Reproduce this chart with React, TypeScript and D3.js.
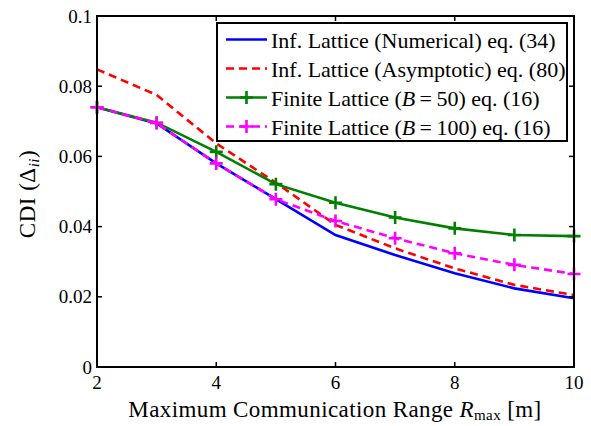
import React from "react";
import * as d3 from "d3";

const xValues = [2, 3, 4, 5, 6, 7, 8, 9, 10];
const numerical = [0.074, 0.0694, 0.058, 0.0478, 0.0376, 0.0319, 0.0267, 0.0224, 0.0196];
const asymptotic = [0.0848, 0.0775, 0.0637, 0.0525, 0.0405, 0.0338, 0.0281, 0.0234, 0.0205];
const finite50 = [0.074, 0.0696, 0.0613, 0.0521, 0.0468, 0.0426, 0.0395, 0.0376, 0.0373];
const finite100 = [0.074, 0.0695, 0.058, 0.0478, 0.0416, 0.0367, 0.0324, 0.0291, 0.0265];
const xTicks = [2, 4, 6, 8, 10];
const yTicks = [0, 0.02, 0.04, 0.06, 0.08, 0.1];
const yTickLabels = ["0", "0.02", "0.04", "0.06", "0.08", "0.1"];

const series = [
  { name: "Inf. Lattice (Numerical) eq. (34)", values: numerical, color: "#0000ff", dash: "", marker: false },
  { name: "Inf. Lattice (Asymptotic) eq. (80)", values: asymptotic, color: "#ff0000", dash: "8,5", marker: false },
  { name: "Finite Lattice (B=50) eq. (16)", values: finite50, color: "#008000", dash: "", marker: true },
  { name: "Finite Lattice (B=100) eq. (16)", values: finite100, color: "#ff00ff", dash: "8,5", marker: true },
];

const W = 591, H = 426;
const L = 97, R = 574, T = 16, B = 367;
const font = "Liberation Serif, Times New Roman, Times, serif";

export default function App() {
  const x = d3.scaleLinear().domain([2, 10]).range([L, R]);
  const y = d3.scaleLinear().domain([0, 0.1]).range([B, T]);
  const line = d3.line<number>().x((_, i) => x(xValues[i])).y((d) => y(d));
  const tk = 5;
  const ms = 6.5;

  const legendRows = [
    { s: series[0], label: <tspan>Inf. Lattice (Numerical) eq. (34)</tspan> },
    { s: series[1], label: <tspan>Inf. Lattice (Asymptotic) eq. (80)</tspan> },
    { s: series[2], label: <><tspan>Finite Lattice (</tspan><tspan fontStyle="italic">B</tspan><tspan>{"\u2009=\u200950) eq. (16)"}</tspan></> },
    { s: series[3], label: <><tspan>Finite Lattice (</tspan><tspan fontStyle="italic">B</tspan><tspan>{"\u2009=\u2009100) eq. (16)"}</tspan></> },
  ];

  return (
    <svg width={W} height={H} style={{ position: "absolute", left: 0, top: 0, background: "#fff", fontFamily: font }}>
      <rect x={0} y={0} width={W} height={H} fill="#fff" />
      {series.map((s, si) => (
        <g key={si}>
          <path d={line(s.values) || ""} fill="none" stroke={s.color} strokeWidth={2.6} strokeDasharray={s.dash} />
          {s.marker && s.values.map((v, i) => (
            <path key={i} d={`M${x(xValues[i]) - ms},${y(v)}h${2 * ms}M${x(xValues[i])},${y(v) - ms}v${2 * ms}`} stroke={s.color} strokeWidth={2.6} />
          ))}
        </g>
      ))}
      <rect x={L} y={T} width={R - L} height={B - T} fill="none" stroke="#000" strokeWidth={2} />
      {xTicks.map((t, i) => (
        <g key={i}>
          <line x1={x(t)} x2={x(t)} y1={B} y2={B - tk} stroke="#000" strokeWidth={1.5} />
          <line x1={x(t)} x2={x(t)} y1={T} y2={T + tk} stroke="#000" strokeWidth={1.5} />
          <text x={x(t)} y={B + 22} textAnchor="middle" fontSize={19}>{t}</text>
        </g>
      ))}
      {yTicks.map((t, i) => (
        <g key={i}>
          <line x1={L} x2={L + tk} y1={y(t)} y2={y(t)} stroke="#000" strokeWidth={1.5} />
          <line x1={R} x2={R - tk} y1={y(t)} y2={y(t)} stroke="#000" strokeWidth={1.5} />
          <text x={L - 5} y={y(t) + 6.5} textAnchor="end" fontSize={19}>{yTickLabels[i]}</text>
        </g>
      ))}
      <rect x={217} y={23} width={350} height={118} fill="#fff" stroke="#000" strokeWidth={2} />
      {legendRows.map((r, i) => {
        const cy = 39.5 + i * 29;
        return (
          <g key={i}>
            <line x1={226} x2={267} y1={cy} y2={cy} stroke={r.s.color} strokeWidth={2.6} strokeDasharray={r.s.dash} />
            {r.s.marker && (
              <path d={`M${246.5 - ms},${cy}h${2 * ms}M246.5,${cy - ms}v${2 * ms}`} stroke={r.s.color} strokeWidth={2.6} />
            )}
            <text x={271} y={cy + 8} fontSize={22}>{r.label}</text>
          </g>
        );
      })}
      <text x={335} y={417} textAnchor="middle" fontSize={23} letterSpacing={0.4}>
        <tspan>Maximum Communication Range </tspan>
        <tspan fontStyle="italic">R</tspan>
        <tspan fontSize={15} dy={3}>max</tspan>
        <tspan dy={-3}> [m]</tspan>
      </text>
      <text transform="translate(35,194) rotate(-90)" textAnchor="middle" fontSize={23} letterSpacing={0.5}>
        <tspan>CDI (Δ</tspan>
        <tspan fontSize={15} fontStyle="italic" dy={4}>ii</tspan>
        <tspan dy={-4}>)</tspan>
      </text>
    </svg>
  );
}
